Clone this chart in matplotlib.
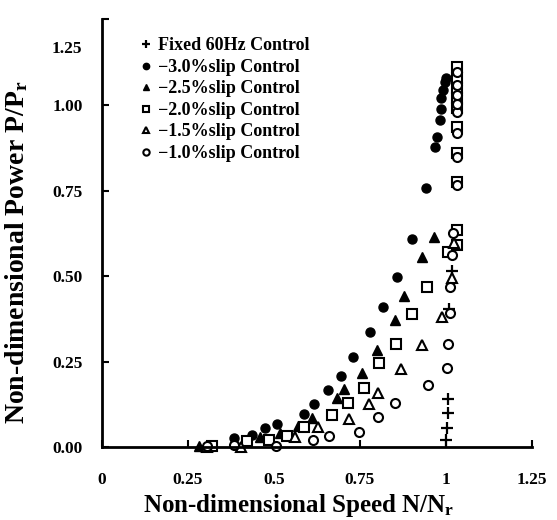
import numpy as np
import matplotlib
matplotlib.use("Agg")
import matplotlib.pyplot as plt
import matplotlib.transforms as mtransforms

plt.rcParams['font.family'] = ['Liberation Serif', 'DejaVu Serif']
plt.rcParams['font.weight'] = 'bold'
plt.rcParams['axes.labelweight'] = 'bold'
plt.rcParams['mathtext.fontset'] = 'custom'
plt.rcParams['mathtext.rm'] = 'Liberation Serif:bold'
plt.rcParams['mathtext.it'] = 'Liberation Serif:bold'

# fixed 60Hz control
fix_x = [1.000, 1.003, 1.006, 1.006, 1.009, 1.017]
fix_y = [0.020, 0.056, 0.099, 0.140, 0.404, 0.515]

# -3.0% slip
s30_x = [0.384, 0.436, 0.474, 0.509, 0.587, 0.616, 0.657, 0.695, 0.730, 0.779,
         0.817, 0.858, 0.901, 0.942, 0.968, 0.974, 0.983, 0.985, 0.985, 0.991,
         0.997, 1.000]
s30_y = [0.026, 0.035, 0.056, 0.067, 0.096, 0.126, 0.167, 0.208, 0.263, 0.336,
         0.409, 0.497, 0.608, 0.757, 0.877, 0.906, 0.956, 0.988, 1.020, 1.044,
         1.067, 1.079]

# -2.5% slip
s25_x = [0.282, 0.459, 0.517, 0.570, 0.610, 0.683, 0.703, 0.756, 0.799, 0.852,
         0.878, 0.930, 0.965]
s25_y = [0.003, 0.029, 0.041, 0.061, 0.085, 0.143, 0.170, 0.216, 0.284, 0.371,
         0.442, 0.556, 0.614]

# -2.0% slip
s20_x = [0.320, 0.422, 0.485, 0.538, 0.587, 0.669, 0.715, 0.762, 0.805, 0.855,
         0.901, 0.945, 1.006, 1.032, 1.032, 1.032, 1.032, 1.032, 1.032, 1.032,
         1.032, 1.032, 1.032]
s20_y = [0.003, 0.018, 0.020, 0.032, 0.058, 0.094, 0.129, 0.173, 0.246, 0.301,
         0.389, 0.468, 0.570, 0.591, 0.635, 0.775, 0.860, 0.936, 0.991, 1.020,
         1.050, 1.079, 1.111]

# -1.5% slip
s15_x = [0.305, 0.404, 0.561, 0.628, 0.718, 0.776, 0.802, 0.869, 0.930, 0.988,
         1.017, 1.023]
s15_y = [0.000, 0.000, 0.029, 0.058, 0.082, 0.126, 0.158, 0.228, 0.298, 0.380,
         0.494, 0.597]

# -1.0% slip
s10_x = [0.305, 0.384, 0.506, 0.613, 0.660, 0.747, 0.802, 0.852, 0.948, 1.003,
         1.006, 1.012, 1.012, 1.017, 1.020, 1.032, 1.032, 1.032, 1.032, 1.032,
         1.032, 1.032, 1.032]
s10_y = [0.003, 0.006, 0.003, 0.020, 0.032, 0.044, 0.088, 0.129, 0.181, 0.231,
         0.301, 0.392, 0.468, 0.561, 0.626, 0.766, 0.848, 0.918, 0.980, 1.003,
         1.029, 1.058, 1.096]

xticks = [0, 0.25, 0.5, 0.75, 1.0, 1.25]
xtick_labels = ['0', '0.25', '0.5', '0.75', '1', '1.25']
yticks = [0, 0.25, 0.5, 0.75, 1.0, 1.25]
ytick_labels = ['0.00', '0.25', '0.50', '0.75', '1.00', '1.25']

fig = plt.figure(figsize=(5.57, 5.20), dpi=100)
ax = fig.add_axes([0.183, 0.140, 0.772, 0.8225])

ms = 6.5
ax.plot(fix_x, fix_y, '+', color='black', ms=8, mew=1.6, ls='none',
        label='Fixed 60Hz Control', clip_on=False)
ax.plot(s30_x, s30_y, 'o', color='black', ms=ms, ls='none',
        label='\u22123.0%slip Control', clip_on=False)
ax.plot(s25_x, s25_y, '^', color='black', ms=ms, ls='none',
        label='\u22122.5%slip Control', clip_on=False)
ax.plot(s20_x, s20_y, 's', mfc='white', mec='black', mew=1.5, ms=ms, ls='none',
        label='\u22122.0%slip Control', clip_on=False)
ax.plot(s15_x, s15_y, '^', mfc='white', mec='black', mew=1.5, ms=ms, ls='none',
        label='\u22121.5%slip Control', clip_on=False)
ax.plot(s10_x, s10_y, 'o', mfc='white', mec='black', mew=1.5, ms=ms, ls='none',
        label='\u22121.0%slip Control', clip_on=False)

ax.set_xlim(0, 1.25)
ax.set_ylim(0, 1.25)
ax.set_xticks(xticks)
ax.set_xticklabels(xtick_labels)
ax.set_yticks(yticks)
ax.set_yticklabels(ytick_labels)
ax.tick_params(direction='in', length=5, width=1.5, labelsize=12.5)
ax.tick_params(axis='x', pad=18)
ax.tick_params(axis='y', pad=14)
for s in ['top', 'right']:
    ax.spines[s].set_visible(False)
for s in ['left', 'bottom']:
    ax.spines[s].set_linewidth(2)

# the top y label sits lower in the original
lab = ax.get_yticklabels()[-1]
lab.set_transform(lab.get_transform() +
                  mtransforms.ScaledTranslation(0, -0.28, fig.dpi_scale_trans))

ax.set_xlabel('Non-dimensional Speed N/N$_\\mathrm{r}$', fontsize=18)
ax.set_ylabel('Non-dimensional Power P/P$_\\mathrm{r}$', fontsize=20)
ax.xaxis.set_label_coords(0.458, -0.105)
ax.yaxis.set_label_coords(-0.168, 0.456)

ax.legend(loc='upper left', bbox_to_anchor=(0.07, 0.975), frameon=False,
          fontsize=13, markerscale=0.7, handlelength=0.8, handletextpad=0.25,
          labelspacing=0.25, borderaxespad=0)

fig.savefig('out.png', dpi=100)
